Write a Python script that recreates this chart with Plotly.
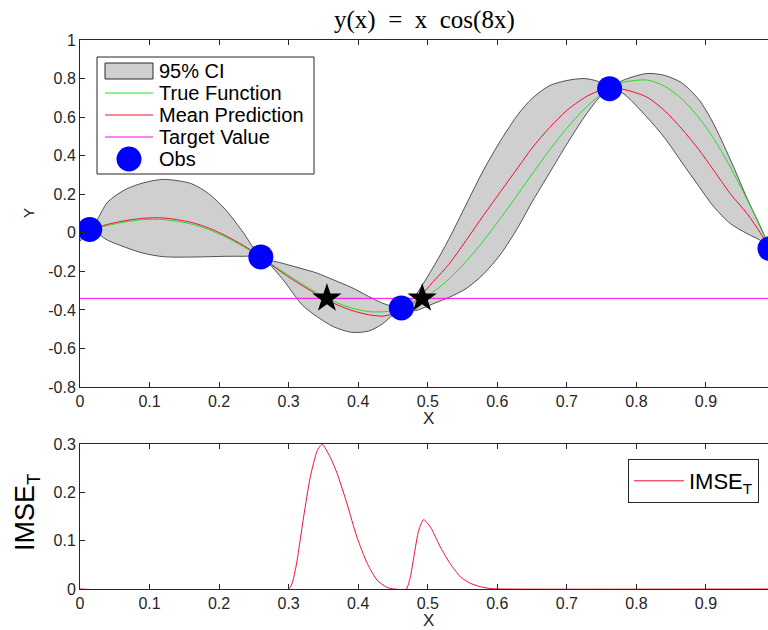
import plotly.graph_objects as go

# ---------------- data ----------------
ci_x = [0.000, 0.014, 0.040, 0.065, 0.090, 0.120, 0.160, 0.185, 0.210, 0.235,
        0.260, 0.290, 0.320, 0.340, 0.365, 0.390, 0.415, 0.435, 0.450, 0.462,
        0.480, 0.510, 0.530, 0.555, 0.580, 0.605, 0.630, 0.650, 0.675, 0.700,
        0.725, 0.745, 0.7615, 0.780, 0.815, 0.840, 0.865, 0.890, 0.910, 0.935,
        0.960, 0.978, 0.992]
ci_upper = [0.060, 0.017, 0.160, 0.224, 0.258, 0.277, 0.255, 0.203, 0.117, 0.000,
            -0.125, -0.157, -0.187, -0.208, -0.245, -0.283, -0.330, -0.365, -0.382, -0.390,
            -0.335, -0.165, -0.035, 0.145, 0.324, 0.480, 0.615, 0.697, 0.763, 0.790,
            0.800, 0.785, 0.7475, 0.790, 0.826, 0.817, 0.778, 0.690, 0.572, 0.380,
            0.172, 0.035, -0.082]
ci_lower = [-0.045, 0.017, -0.039, -0.075, -0.105, -0.124, -0.126, -0.124, -0.122, -0.122,
            -0.125, -0.235, -0.376, -0.433, -0.488, -0.516, -0.510, -0.472, -0.425, -0.390,
            -0.405, -0.365, -0.336, -0.290, -0.215, -0.110, 0.030, 0.160, 0.310, 0.460,
            0.600, 0.695, 0.7475, 0.725, 0.600, 0.495, 0.367, 0.240, 0.140, 0.048,
            -0.006, -0.039, -0.082]
mean_pred = [0.005, 0.017, 0.044, 0.063, 0.075, 0.077, 0.054, 0.025, -0.016, -0.066,
             -0.125, -0.205, -0.275, -0.318, -0.366, -0.402, -0.425, -0.432, -0.420, -0.390,
             -0.360, -0.245, -0.165, -0.040, 0.090, 0.215, 0.340, 0.440, 0.545, 0.635,
             0.700, 0.735, 0.7475, 0.745, 0.704, 0.635, 0.540, 0.430, 0.330, 0.203,
             0.095, 0.000, -0.082]
true_y = [0.0000, 0.0139, 0.0380, 0.0564, 0.0677, 0.0688, 0.0459, 0.0168, -0.0229, -0.0715,
          -0.1267, -0.1975, -0.2671, -0.3102, -0.3561, -0.3899, -0.4085, -0.4099, -0.4035, -0.3927,
          -0.3678, -0.3013, -0.2411, -0.1491, -0.0419, 0.0770, 0.2018, 0.3045, 0.4284, 0.5429,
          0.6420, 0.7064, 0.7477, 0.7793, 0.7923, 0.7611, 0.6955, 0.5961, 0.4949, 0.3416,
          0.1664, 0.0293, -0.0813]

obs_x = [0.014, 0.260, 0.462, 0.7615, 0.992]
obs_y = [0.017, -0.125, -0.390, 0.7475, -0.082]

target_value = -0.34
target_x = [0.0, 1.0]
star_x = [0.355, 0.492]
star_y = [-0.34, -0.34]

imse_x = [0.0, 0.300, 0.3095, 0.3215, 0.331, 0.341, 0.348, 0.360, 0.370, 0.384,
          0.398, 0.413, 0.427, 0.441, 0.452, 0.469, 0.475, 0.480, 0.487, 0.494,
          0.504, 0.518, 0.532, 0.547, 0.561, 0.575, 0.590, 0.605, 1.0]
imse_y = [0.0, 0.0, 0.039, 0.149, 0.231, 0.286, 0.300, 0.272, 0.238, 0.176,
          0.108, 0.053, 0.0185, 0.0035, 0.0, 0.0, 0.025, 0.0665, 0.1215, 0.1435,
          0.128, 0.087, 0.053, 0.025, 0.012, 0.005, 0.001, 0.0, 0.0]

x_ticks = [0, 0.1, 0.2, 0.3, 0.4, 0.5, 0.6, 0.7, 0.8, 0.9]
x_tick_labels = ['0', '0.1', '0.2', '0.3', '0.4', '0.5', '0.6', '0.7', '0.8', '0.9']
y_ticks = [-0.8, -0.6, -0.4, -0.2, 0, 0.2, 0.4, 0.6, 0.8, 1]
y_tick_labels = ['-0.8', '-0.6', '-0.4', '-0.2', '0', '0.2', '0.4', '0.6', '0.8', '1']
imse_ticks = [0, 0.1, 0.2, 0.3]
imse_tick_labels = ['0', '0.1', '0.2', '0.3']

legend_labels = ['95% CI', 'True Function', 'Mean Prediction', 'Target Value', 'Obs']

# ---------------- styles ----------------
AX = '#262626'
FONT = 'Liberation Sans, Arial, Helvetica, sans-serif'
XMAX = 0.9892
C_FILL = '#cfcfcf'
C_EDGE = '#2b2b2b'
C_TRUE = '#22dd22'
C_MEAN = '#ee1133'
C_TARGET = '#ff00ff'
C_OBS = '#0000ff'

# pixel -> paper helpers (plot area: left 80, width 688; bottom 589, height 549)
def px(v):
    return (v - 80) / 688


def py(v):
    return (589 - v) / 549


fig = go.Figure()

fig.add_trace(go.Scatter(x=ci_x, y=ci_lower, mode='lines', showlegend=False,
                         line=dict(color=C_EDGE, width=0.8, shape='spline', smoothing=0.8),
                         hoverinfo='skip', xaxis='x', yaxis='y'))
fig.add_trace(go.Scatter(x=ci_x, y=ci_upper, mode='lines', name=legend_labels[0], fill='tonexty',
                         fillcolor=C_FILL, showlegend=False,
                         line=dict(color=C_EDGE, width=0.8, shape='spline', smoothing=0.8),
                         xaxis='x', yaxis='y'))
fig.add_trace(go.Scatter(x=ci_x, y=true_y, mode='lines', name=legend_labels[1], showlegend=False,
                         line=dict(color=C_TRUE, width=1, shape='spline', smoothing=0.8),
                         xaxis='x', yaxis='y'))
fig.add_trace(go.Scatter(x=ci_x, y=mean_pred, mode='lines', name=legend_labels[2], showlegend=False,
                         line=dict(color=C_MEAN, width=1, shape='spline', smoothing=0.8),
                         xaxis='x', yaxis='y'))
fig.add_trace(go.Scatter(x=target_x, y=[target_value] * len(target_x), mode='lines',
                         name=legend_labels[3], showlegend=False, line=dict(color=C_TARGET, width=1),
                         xaxis='x', yaxis='y'))
fig.add_trace(go.Scatter(x=obs_x, y=obs_y, mode='markers', name=legend_labels[4], showlegend=False,
                         marker=dict(color=C_OBS, size=25, line=dict(width=0)),
                         xaxis='x', yaxis='y'))
fig.add_trace(go.Scatter(x=star_x, y=star_y, mode='markers', showlegend=False, name='Query',
                         marker=dict(color='black', size=22, symbol='star', line=dict(width=0)),
                         xaxis='x', yaxis='y'))

fig.add_trace(go.Scatter(x=imse_x, y=imse_y, mode='lines', name='IMSE<sub>T</sub>',
                         line=dict(color=C_MEAN, width=1, shape='spline', smoothing=0.6),
                         xaxis='x2', yaxis='y2', legend='legend2', showlegend=True))

axis_common = dict(showline=True, linecolor=AX, linewidth=1, ticks='inside', ticklen=5,
                   tickcolor=AX, tickwidth=1, showgrid=False, zeroline=False,
                   tickfont=dict(family=FONT, size=16, color=AX), automargin=False)

# ---- top legend drawn in paper space (box, glyphs, labels) ----
row_y = [71, 93, 115, 137, 159]
shapes = [
    dict(type='rect', xref='paper', yref='paper', x0=px(97), x1=px(314), y0=py(174), y1=py(57),
         line=dict(color=AX, width=1), fillcolor='white', layer='above'),
    dict(type='rect', xref='paper', yref='paper', x0=px(105), x1=px(153),
         y0=py(row_y[0] + 8), y1=py(row_y[0] - 8),
         line=dict(color=C_EDGE, width=1), fillcolor=C_FILL, layer='above'),
    dict(type='line', xref='paper', yref='paper', x0=px(105), x1=px(153),
         y0=py(row_y[1]), y1=py(row_y[1]), line=dict(color=C_TRUE, width=1), layer='above'),
    dict(type='line', xref='paper', yref='paper', x0=px(105), x1=px(153),
         y0=py(row_y[2]), y1=py(row_y[2]), line=dict(color=C_MEAN, width=1), layer='above'),
    dict(type='line', xref='paper', yref='paper', x0=px(105), x1=px(153),
         y0=py(row_y[3]), y1=py(row_y[3]), line=dict(color=C_TARGET, width=1), layer='above'),
    dict(type='circle', xref='paper', yref='paper', x0=px(116.5), x1=px(141.5),
         y0=py(row_y[4] + 12.5), y1=py(row_y[4] - 12.5),
         line=dict(width=0), fillcolor=C_OBS, layer='above'),
]

annotations = [
    dict(text='y(x)\u2002=\u2002x\u2002cos(8x)', xref='paper', yref='paper',
         x=px(424), y=py(20), showarrow=False,
         font=dict(family='Liberation Serif, Times New Roman, serif', size=25, color='black'),
         xanchor='center', yanchor='middle'),
    dict(text='X', xref='paper', yref='paper', x=px(428), y=py(418),
         showarrow=False, font=dict(family=FONT, size=17, color=AX),
         xanchor='center', yanchor='middle'),
    dict(text='X', xref='paper', yref='paper', x=px(428), y=py(620),
         showarrow=False, font=dict(family=FONT, size=17, color=AX),
         xanchor='center', yanchor='middle'),
    dict(text='Y', xref='paper', yref='paper', x=px(28), y=py(213),
         showarrow=False, textangle=-90, font=dict(family=FONT, size=15, color=AX),
         xanchor='center', yanchor='middle'),
    dict(text='IMSE<sub>T</sub>', xref='paper', yref='paper', x=px(27),
         y=py(512), showarrow=False, textangle=-90,
         font=dict(family=FONT, size=27, color='black'),
         xanchor='center', yanchor='middle'),
]
for lbl, yy in zip(legend_labels, row_y):
    annotations.append(dict(text=lbl, xref='paper', yref='paper', x=px(157), y=py(yy),
                            showarrow=False, xanchor='left', yanchor='middle',
                            font=dict(family=FONT, size=20, color='black')))

fig.update_layout(
    template='none',
    width=768, height=630,
    margin=dict(l=80, r=0, t=40, b=41),
    paper_bgcolor='white', plot_bgcolor='white',
    xaxis=dict(domain=[0, 1], range=[0, XMAX], anchor='y', mirror='ticks',
               tickvals=x_ticks, ticktext=x_tick_labels, **axis_common),
    yaxis=dict(domain=[0.3679, 1], range=[-0.8, 1], anchor='x',
               tickvals=y_ticks, ticktext=y_tick_labels, **axis_common),
    xaxis2=dict(domain=[0, 1], range=[0, XMAX], anchor='y2', mirror='ticks',
                tickvals=x_ticks, ticktext=x_tick_labels, **axis_common),
    yaxis2=dict(domain=[0, 0.2641], range=[0, 0.3], anchor='x2',
                tickvals=imse_ticks, ticktext=imse_tick_labels, **axis_common),
    legend2=dict(x=px(759), y=py(459), xanchor='right', yanchor='top',
                 bordercolor=AX, borderwidth=1, bgcolor='white', itemwidth=50,
                 font=dict(family=FONT, size=22, color='black')),
    showlegend=True,
    shapes=shapes,
    annotations=annotations,
)

fig.write_html('out.html')
